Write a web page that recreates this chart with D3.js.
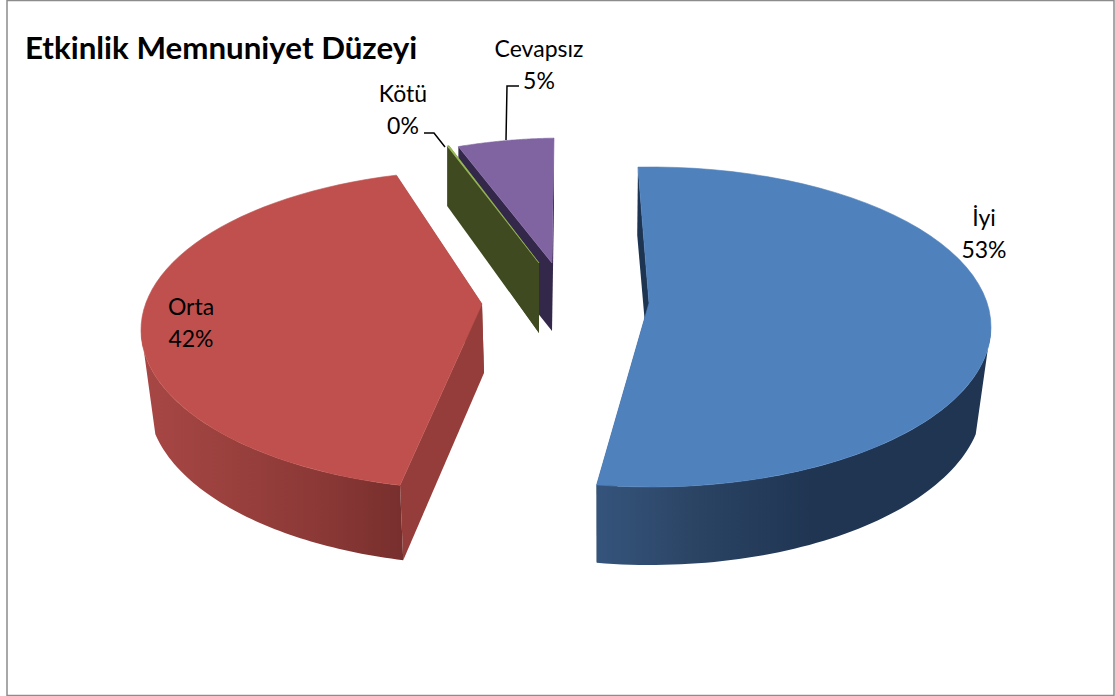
<!DOCTYPE html>
<html>
<head>
<meta charset="utf-8">
<script src="https://cdn.jsdelivr.net/npm/d3@7"></script>
<style>
    html, body { margin: 0; background: #fff; }
    svg { display: block; }
    text { font-family: Lato, "Open Sans", sans-serif; fill: #000; }
</style>
</head>
<body>
<svg width="1115" height="696"></svg>
<script>
const title = 'Etkinlik Memnuniyet Düzeyi';
const categories = ['İyi', 'Orta', 'Kötü', 'Cevapsız'];
const values = [53, 42, 0.1, 5];
const topColors = ['#4f81bd', '#c0504d', '#9bbb59', '#8064a2'];
const cutColors = ['#1e3552', '#953d3a', '#3f4a21', '#34284a'];

// the slices are pulled apart and seen in perspective, so each one has its own ellipses
const layout = {
    'İyi': {
        skew: [0, 0.8], top: { x: 651, y: 327, rx: 340, ry: 160 }, bottom: { x: 650, y: 400, rx: 333, ry: 165 },
        apex: [649, 303], apexBottom: [649, 370],
        wall: ['#35547c', '#2b4464', '#1f3552', '#1f3552'], stops: [0, 0.25, 0.55, 1],
        topEdge: 90, bottomEdge: 102
    },
    'Orta': {
        skew: [5.5, 6], top: { x: 482, y: 330, rx: 341, ry: 160 }, bottom: { x: 484, y: 400, rx: 336, ry: 165 },
        apex: [482, 304], apexBottom: [484, 373],
        wall: ['#a84745', '#973f3c', '#8a3836', '#772f2d'], stops: [0, 0.4, 0.7, 1],
        topEdge: 270, bottomEdge: 258
    },
    'Kötü': {
        skew: [0, 0], top: { x: 551, y: 277, rx: 296, ry: 140 }, bottom: { x: 551, y: 337, rx: 296, ry: 140 },
        apex: [539, 263], apexBottom: [539, 333]
    },
    'Cevapsız': {
        skew: [0, 0], top: { x: 566, y: 278, rx: 312, ry: 140 }, bottom: { x: 566, y: 345, rx: 312, ry: 140 },
        apex: [552, 263], apexBottom: [552, 331]
    }
};

const labelPos = {
    'İyi': [984, 218],
    'Orta': [191, 307],
    'Kötü': [403, 94],
    'Cevapsız': [539, 49]
};
const leaders = {
    'Kötü': [[424, 133], [434, 133], [445, 147]],
    'Cevapsız': [[519, 86], [507, 86], [506, 140]]
};

const svg = d3.select('svg');
const width = +svg.attr('width');
const height = +svg.attr('height');
const defs = svg.append('defs');

// chart frame
svg.append('rect')
    .attr('x', 7).attr('y', 0.5)
    .attr('width', width - 8).attr('height', height - 1)
    .attr('fill', 'white')
    .attr('stroke', '#8c8c8c')
    .attr('stroke-width', 1.5);

const total = d3.sum(values);
const pct = d3.format('.0%');
const rad = Math.PI / 180;
const pie = d3.pie().sort(null).startAngle(-2.2 * rad).endAngle(357.8 * rad);
const slices = pie(values).map((d, i) => ({
    ...d,
    name: categories[i],
    a0: d.startAngle + layout[categories[i]].skew[0] * rad,
    a1: d.endAngle + layout[categories[i]].skew[1] * rad
}));

const rim = (e, a) => [e.x + e.rx * Math.sin(a), e.y - e.ry * Math.cos(a)];
const rimPoints = (e, a0, a1) => d3.range(0, 61).map(k => rim(e, a0 + (a1 - a0) * k / 60));
const poly = d3.line();

// back pieces first so the green wall sits over the purple one
const drawOrder = ['Cevapsız', 'Kötü', 'Orta', 'İyi'];

drawOrder.forEach(name => {
    const i = categories.indexOf(name);
    const s = slices[i];
    const l = layout[name];
    const g = svg.append('g').attr('class', 'slice');

    // cut faces
    [s.a0, s.a1].forEach(a => {
        g.append('path')
            .attr('fill', cutColors[i])
            .attr('d', poly([rim(l.top, a), l.apex, l.apexBottom, rim(l.bottom, a)]) + 'Z');
    });

    // outer wall, only the two big slices show one
    if (l.wall) {
        const grad = defs.append('linearGradient')
            .attr('id', `wall-${i}`)
            .attr('x1', 0).attr('x2', 1).attr('y1', 0).attr('y2', 0);
        l.wall.forEach((c, k) => grad.append('stop').attr('offset', l.stops[k]).attr('stop-color', c));

        // top and bottom rims stop at different angles so the silhouette runs straight down
        const topRim = i === 0 ? rimPoints(l.top, l.topEdge * rad, s.a1) : rimPoints(l.top, s.a0, l.topEdge * rad);
        const bottomRim = i === 0 ? rimPoints(l.bottom, l.bottomEdge * rad, s.a1) : rimPoints(l.bottom, s.a0, l.bottomEdge * rad);
        g.append('path')
            .attr('fill', `url(#wall-${i})`)
            .attr('d', poly(topRim.concat(bottomRim.reverse())) + 'Z');
    }

    // top face
    g.append('path')
        .attr('fill', topColors[i])
        .attr('stroke', topColors[i])
        .attr('stroke-width', 0.6)
        .attr('d', poly([l.apex].concat(rimPoints(l.top, s.a0, s.a1))) + 'Z');
});

// leader lines
Object.keys(leaders).forEach(name => {
    svg.append('path')
        .attr('fill', 'none')
        .attr('stroke', '#000')
        .attr('stroke-width', 1.5)
        .attr('d', poly(leaders[name]));
});

// data labels
categories.forEach((name, i) => {
    const p = labelPos[name];
    const t = svg.append('text')
        .attr('text-anchor', 'middle')
        .attr('font-size', 23);
    t.append('tspan').attr('x', p[0]).attr('y', p[1] + 8).text(name);
    t.append('tspan').attr('x', p[0]).attr('y', p[1] + 40).text(pct(values[i] / total));
});

svg.append('text')
    .attr('x', 25)
    .attr('y', 59)
    .attr('font-size', 31.3)
    .attr('font-weight', 700)
    .text(title);
</script>
</body>
</html>
